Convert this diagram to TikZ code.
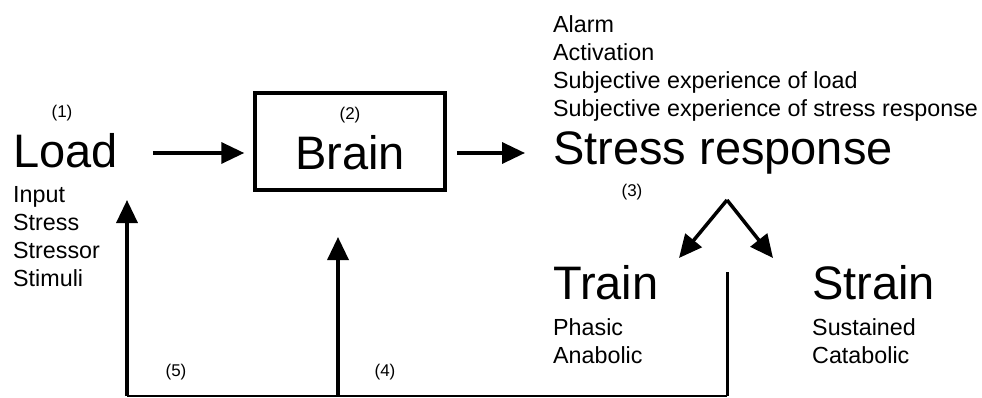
\documentclass[tikz,border=0pt]{standalone}
\usepackage{fontspec}
\setmainfont{Liberation Sans}
\usetikzlibrary{arrows.meta}
\tikzset{
  big/.style={inner sep=0pt,font=\fontsize{47}{50}\selectfont},
  small/.style={inner sep=0pt,align=left,font=\fontsize{23.3}{28}\selectfont},
  num/.style={inner sep=0pt,font=\fontsize{17}{20}\selectfont},
  arr/.style={line width=3.5pt,-{Triangle[length=23pt,width=21pt]}}
}
\begin{document}
\begin{tikzpicture}[x=1pt,y=-1pt]
\useasboundingbox (0,0) rectangle (982,398);

\node(load)[big,anchor=base west] at (13,168) {Load};
\node(loadnum)[num] at (62,113) {(1)};
\node(loadlist)[small,anchor=north west] at (13,186) {Input\\Stress\\Stressor\\Stimuli};

\node(brain)[draw,line width=3.5pt,minimum width=190pt,minimum height=97pt] at (350,141.5) {};
\node(braintxt)[big,anchor=base] at (350,170) {Brain};
\node(brainnum)[num] at (350,115) {(2)};

\node(stress)[big,anchor=base west] at (553,165) {Stress response};
\node(stresslist)[small,anchor=north west] at (553,15) {Alarm\\Activation\\Subjective experience of load\\Subjective experience of stress response};
\node(stressnum)[num] at (632,192) {(3)};

\node(train)[big,anchor=base west] at (553,299) {Train};
\node(trainlist)[small,anchor=north west] at (553,318) {Phasic\\Anabolic};
\node(strain)[big,anchor=base west] at (812,299) {Strain};
\node(strainlist)[small,anchor=north west] at (812,318) {Sustained\\Catabolic};

\node(num5)[num] at (176,372) {(5)};
\node(num4)[num] at (385,372) {(4)};

\coordinate(split) at (727,200);
\coordinate(trainin) at (679,258);
\coordinate(strainin) at (773,258);
\coordinate(fbtop) at (727,272);
\coordinate(fbbottom) at (727,396);
\coordinate(loadin) at (127,200);
\coordinate(brainin) at (338,237);

\draw[arr,shorten <=35pt,shorten >=9pt] (load.east |- 0,153) -- (brain.west |- 0,153);
\draw[arr,shorten <=10pt] (brain.east |- 0,153) -- (525,153);
\draw[arr] (split) -- (trainin);
\draw[arr] (split) -- (strainin);

\draw[line width=3pt] (fbtop) -- (fbbottom);
\draw[line width=1.8pt] (fbbottom) -- (loadin |- fbbottom);
\draw[arr] (loadin |- fbbottom) -- (loadin);
\draw[arr] (brainin |- fbbottom) -- (brainin);

\end{tikzpicture}
\end{document}
